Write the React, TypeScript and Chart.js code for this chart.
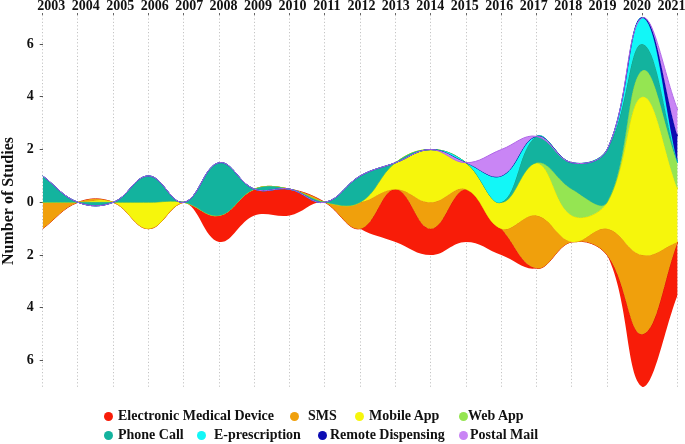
import React, { useEffect, useRef } from "react";
import { Chart, registerables } from "chart.js";

Chart.register(...registerables);

const years = ["2003", "2004", "2005", "2006", "2007", "2008", "2009", "2010", "2011", "2012", "2013", "2014", "2015", "2016", "2017", "2018", "2019", "2020", "2021"];

const electronicMedicalDevice = [0, 0, 0, 0, 0, 1, 1, 1, 0, 0, 2, 1, 2, 1, 0, 0, 0, 2, 2];
const sms = [1, 0, 0, 0, 0, 0, 0, 0, 0, 1, 0, 1, 0, 0, 2, 0, 1, 3, 0];
const mobileApp = [0, 0, 0, 1, 0, 0, 0, 0, 0, 0, 1, 2, 1, 1, 2, 1, 1, 6, 2];
const webApp = [0, 0, 0, 0, 0, 0, 0, 0, 0, 0, 0, 0, 0, 0, 0, 1, 0, 1, 1];
const phoneCall = [1, 0, 0, 1, 0, 2, 0, 0, 0, 1, 0, 0, 0, 0, 1, 1, 2, 1, 0];
const ePrescription = [0, 0, 0, 0, 0, 0, 0, 0, 0, 0, 0, 0, 0, 1, 0, 0, 0, 1, 0];
const remoteDispensing = [0, 0, 0, 0, 0, 0, 0, 0, 0, 0, 0, 0, 0, 0, 0, 0, 0, 0, 1];
const postalMail = [0, 0, 0, 0, 0, 0, 0, 0, 0, 0, 0, 0, 0, 1, 0, 0, 0, 0, 1];

const yTicks = [-6, -4, -2, 0, 2, 4, 6];

const seriesLabels = ["Electronic Medical Device", "SMS", "Mobile App", "Web App", "Phone Call", "E-prescription", "Remote Dispensing", "Postal Mail"];
const seriesValues = [electronicMedicalDevice, sms, mobileApp, webApp, phoneCall, ePrescription, remoteDispensing, postalMail];
const seriesColors = ["#f81c08", "#f0a00c", "#f6f60c", "#95e552", "#13b39e", "#12f7f7", "#0c0cb3", "#c985f5"];
const seriesBorders = ["#d81505", "#e39106", "#e8e000", "#80d040", "#0e9f8a", "#08d8e0", "#0a0a9a", "#b068e8"];

// legend layout (marker centre x, text start x) – styling only
const legendLayout = [
  { mx: 108, tx: 118, row: 0 },
  { mx: 294, tx: 308, row: 0 },
  { mx: 359, tx: 369, row: 0 },
  { mx: 463, tx: 468, row: 0 },
  { mx: 108, tx: 118, row: 1 },
  { mx: 201, tx: 214, row: 1 },
  { mx: 322, tx: 330, row: 1 },
  { mx: 463, tx: 470, row: 1 },
];
const legendRowY = [416, 435];

const FONT = "'Liberation Serif', 'Times New Roman', serif";

export default function App() {
  const canvasRef = useRef<HTMLCanvasElement | null>(null);

  useEffect(() => {
    document.body.style.margin = "0";
    document.body.style.overflow = "hidden";
    const canvas = canvasRef.current;
    if (!canvas) return;

    const totals = years.map((_, i) => seriesValues.reduce((s, arr) => s + arr[i], 0));
    const baseline = totals.map((t) => -t / 2);
    let running = baseline.slice();
    const datasets: any[] = [
      {
        label: "_base",
        data: baseline,
        borderWidth: 0,
        pointRadius: 0,
        fill: false,
        tension: 0.4,
        order: 100,
        xAxisID: "x",
        yAxisID: "y",
      },
    ];
    seriesValues.forEach((arr, k) => {
      running = running.map((v, i) => v + arr[i]);
      datasets.push({
        label: seriesLabels[k],
        data: running.slice(),
        backgroundColor: seriesColors[k],
        borderColor: seriesBorders[k],
        borderWidth: 1,
        pointRadius: 0,
        pointHoverRadius: 0,
        fill: "-1",
        tension: 0.4,
        order: 50 - k,
        xAxisID: "x",
        yAxisID: "y",
      });
    });

    const chart = new Chart(canvas, {
      type: "line",
      data: { labels: years, datasets },
      options: {
        responsive: true,
        maintainAspectRatio: false,
        animation: false,
        layout: { padding: { left: 0, right: 7.3, top: 0, bottom: 57 } },
        plugins: { legend: { display: false }, tooltip: { enabled: false } },
        scales: {
          x: {
            type: "category",
            position: "top",
            weight: 0,
            offset: false,
            grid: {
              display: true,
              drawOnChartArea: true,
              drawTicks: true,
              tickLength: 2,
              color: "#c4c4c4",
              lineWidth: 1,
              tickColor: "#666",
              tickWidth: 1,
            },
            border: { display: false, dash: [1.2, 2.2] },
            ticks: { display: false },
            afterFit: (s: any) => {
              s.height = 2;
              s.paddingLeft = 0;
              s.paddingRight = 0;
            },
          },
          x2: {
            type: "linear",
            axis: "x",
            position: "top",
            weight: 1,
            min: 2002.75,
            max: 2021.18,
            bounds: "data",
            grid: { display: false, drawTicks: false },
            border: { display: false },
            afterBuildTicks: (ax: any) => {
              ax.ticks = years.map((y) => ({ value: Number(y) }));
            },
            ticks: {
              autoSkip: false,
              maxRotation: 0,
              padding: 0,
              color: "#111",
              font: { family: FONT, weight: "bold", size: 14, lineHeight: 1 },
              callback: (v: any) => String(v),
            },
            afterFit: (s: any) => {
              s.height = 13;
              s.paddingLeft = 0;
              s.paddingRight = 0;
            },
          },
          y: {
            type: "linear",
            position: "left",
            min: -7,
            max: 7.1,
            afterBuildTicks: (ax: any) => {
              ax.ticks = yTicks.map((v) => ({ value: v }));
            },
            ticks: {
              autoSkip: false,
              padding: 6,
              color: "#111",
              font: { family: FONT, weight: "bold", size: 14 },
              callback: (v: any) => String(Math.abs(Number(v))),
            },
            grid: { drawOnChartArea: false, drawTicks: true, tickLength: 3, tickColor: "#555" },
            border: { display: false },
            title: {
              display: true,
              text: "Number of Studies",
              color: "#111",
              padding: 0,
              font: { family: FONT, weight: "bold", size: 16, lineHeight: 1.1 },
            },
            afterFit: (s: any) => {
              s.width = 42.7;
            },
          },
        },
      } as any,
    });

    return () => chart.destroy();
  }, []);

  return (
    <div style={{ position: "relative", width: 685, height: 444, background: "#fff" }}>
      <div style={{ position: "absolute", left: 0, top: 0, width: 685, height: 444 }}>
        <canvas ref={canvasRef} />
      </div>
      {seriesLabels.map((label, i) => {
        const p = legendLayout[i];
        const cy = legendRowY[p.row];
        return (
          <React.Fragment key={label}>
            <span
              style={{
                position: "absolute",
                left: p.mx - 4.5,
                top: cy - 4.5,
                width: 9,
                height: 9,
                borderRadius: "50%",
                background: seriesColors[i],
              }}
            />
            <span
              style={{
                position: "absolute",
                left: p.tx,
                top: cy - 8,
                height: 16,
                lineHeight: "16px",
                fontFamily: FONT,
                fontWeight: "bold",
                fontSize: 14,
                color: "#111",
                whiteSpace: "nowrap",
              }}
            >
              {label}
            </span>
          </React.Fragment>
        );
      })}
    </div>
  );
}
